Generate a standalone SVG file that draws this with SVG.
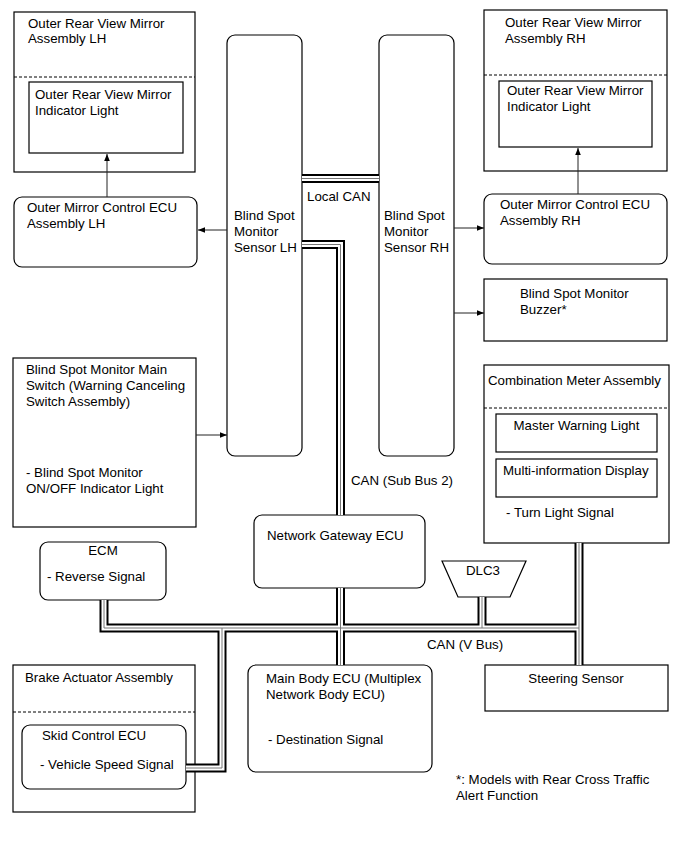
<svg xmlns="http://www.w3.org/2000/svg" width="690" height="853" viewBox="0 0 690 853">
<defs>
<marker id="arr" viewBox="0 0 10 10" refX="10" refY="5" markerWidth="7" markerHeight="7" markerUnits="userSpaceOnUse" orient="auto">
<path d="M0,1 L10,5 L0,9 Z" fill="#000"/>
</marker>
</defs>
<style>
text{font-family:"Liberation Sans",Arial,sans-serif;font-size:13.3px;fill:#000}
.box{fill:#fff;stroke:#000;stroke-width:1.2}
.dash{fill:none;stroke:#000;stroke-width:1;stroke-dasharray:3,2}
.ln{fill:none;stroke:#222;stroke-width:1}
.bk{fill:none;stroke:#000;stroke-width:9;stroke-linejoin:miter}
.wh{fill:none;stroke:#fff;stroke-width:5;stroke-linejoin:miter}
.ct{fill:none;stroke:#777;stroke-width:1}
</style>
<rect width="690" height="853" fill="#fff"/>

<g id="mirror-lh">
<rect class="box" x="14" y="12" width="181" height="160"/>
<line class="dash" x1="14" y1="77" x2="195" y2="77"/>
<text x="28" y="27.5">Outer Rear View Mirror</text>
<text x="28" y="43">Assembly LH</text>
</g>
<g id="mirror-lh-light">
<rect class="box" x="29" y="82" width="154" height="71"/>
<text x="35" y="99">Outer Rear View Mirror</text>
<text x="35" y="114.5">Indicator Light</text>
</g>
<g id="ecu-lh">
<rect class="box" x="14" y="197" width="183" height="70" rx="8"/>
<text x="27" y="212">Outer Mirror Control ECU</text>
<text x="27" y="227.5">Assembly LH</text>
</g>
<g id="sensor-lh">
<rect class="box" x="227" y="35" width="75" height="421" rx="8"/>
<text x="234" y="220">Blind Spot</text>
<text x="234" y="236">Monitor</text>
<text x="234" y="252">Sensor LH</text>
</g>
<g id="sensor-rh">
<rect class="box" x="379" y="35" width="75" height="421" rx="8"/>
<text x="384" y="220">Blind Spot</text>
<text x="384" y="236">Monitor</text>
<text x="384" y="252">Sensor RH</text>
</g>
<g id="mirror-rh">
<rect class="box" x="484" y="10" width="183" height="161"/>
<line class="dash" x1="484" y1="75" x2="667" y2="75"/>
<text x="505" y="27">Outer Rear View Mirror</text>
<text x="505" y="42.5">Assembly RH</text>
</g>
<g id="mirror-rh-light">
<rect class="box" x="499" y="81" width="153" height="66"/>
<text x="507" y="95">Outer Rear View Mirror</text>
<text x="507" y="110.5">Indicator Light</text>
</g>
<g id="ecu-rh">
<rect class="box" x="484" y="194" width="183" height="70" rx="8"/>
<text x="500" y="209">Outer Mirror Control ECU</text>
<text x="500" y="224.5">Assembly RH</text>
</g>
<g id="buzzer">
<rect class="box" x="484" y="279" width="183" height="62"/>
<text x="520" y="298">Blind Spot Monitor</text>
<text x="520" y="314">Buzzer*</text>
</g>
<g id="main-switch">
<rect class="box" x="13" y="358" width="183" height="169"/>
<text x="26" y="374">Blind Spot Monitor Main</text>
<text x="26" y="390">Switch (Warning Canceling</text>
<text x="26" y="406">Switch Assembly)</text>
<text x="26" y="477">- Blind Spot Monitor</text>
<text x="26" y="493">ON/OFF Indicator Light</text>
</g>
<g id="combination-meter">
<rect class="box" x="484" y="365" width="185" height="178"/>
<line class="dash" x1="484" y1="408" x2="669" y2="408"/>
<text x="488" y="385">Combination Meter Assembly</text>
<text x="506" y="517">- Turn Light Signal</text>
</g>
<g id="master-warning">
<rect class="box" x="496" y="414" width="161" height="38"/>
<text x="576.5" y="430" text-anchor="middle">Master Warning Light</text>
</g>
<g id="multi-display">
<rect class="box" x="496" y="459" width="161" height="38"/>
<text x="503" y="475">Multi-information Display</text>
</g>
<g id="gateway">
<rect class="box" x="254" y="515" width="171" height="73" rx="8"/>
<text x="267" y="540">Network Gateway ECU</text>
</g>
<g id="ecm">
<rect class="box" x="40" y="542" width="126" height="58" rx="8"/>
<text x="103" y="555" text-anchor="middle">ECM</text>
<text x="47" y="581">- Reverse Signal</text>
</g>
<g id="dlc3">
<path class="box" d="M442,561 H526 L510,597 H458 Z"/>
<text x="483" y="575" text-anchor="middle">DLC3</text>
</g>
<g id="brake-actuator">
<rect class="box" x="13" y="665" width="182" height="147"/>
<line class="dash" x1="13" y1="712" x2="195" y2="712"/>
<text x="25" y="682">Brake Actuator Assembly</text>
</g>
<g id="skid-ecu">
<rect class="box" x="22" y="725" width="164" height="64" rx="8"/>
<text x="42" y="740">Skid Control ECU</text>
<text x="40" y="769">- Vehicle Speed Signal</text>
</g>
<g id="main-body">
<rect class="box" x="248" y="665" width="184" height="107" rx="8"/>
<text x="266" y="683">Main Body ECU (Multiplex</text>
<text x="266" y="698.5">Network Body ECU)</text>
<text x="268" y="744">- Destination Signal</text>
</g>
<g id="steering">
<rect class="box" x="485" y="665" width="183" height="46"/>
<text x="576" y="683" text-anchor="middle">Steering Sensor</text>
</g>
<g id="footnote">
<text x="456" y="784">*: Models with Rear Cross Traffic</text>
<text x="456" y="800">Alert Function</text>
</g>

<g id="connectors">
<g id="bus-outer">
<path class="bk" d="M302,178.5 H379"/>
<path class="bk" d="M302,244.5 H340.5 V515"/>
<path class="bk" d="M340.5,588 V665"/>
<path class="bk" d="M104,600 V628 H579"/>
<path class="bk" d="M186,768 H222 V628"/>
<path class="bk" d="M482,597 V628"/>
<path class="bk" d="M579,543 V665"/>
</g>
<g id="bus-inner">
<path class="wh" d="M302,178.5 H379"/>
<path class="wh" d="M302,244.5 H340.5 V515"/>
<path class="wh" d="M340.5,588 V665"/>
<path class="wh" d="M104,600 V628 H579"/>
<path class="wh" d="M186,768 H222 V628"/>
<path class="wh" d="M482,597 V628"/>
<path class="wh" d="M579,543 V665"/>
</g>
<g id="bus-center">
<path class="ct" d="M302,178.5 H379"/>
<path class="ct" d="M302,244.5 H340.5 V515"/>
<path class="ct" d="M340.5,588 V665"/>
<path class="ct" d="M104,600 V628 H579"/>
<path class="ct" d="M186,768 H222 V628"/>
<path class="ct" d="M482,597 V628"/>
<path class="ct" d="M579,543 V665"/>
</g>
<path class="ln" d="M107,197 V154" marker-end="url(#arr)"/>
<path class="ln" d="M578,194 V148" marker-end="url(#arr)"/>
<path class="ln" d="M227,230 H198" marker-end="url(#arr)"/>
<path class="ln" d="M196,435 H227" marker-end="url(#arr)"/>
<path class="ln" d="M454,228 H484" marker-end="url(#arr)"/>
<path class="ln" d="M454,313 H484" marker-end="url(#arr)"/>
<text x="307" y="201">Local CAN</text>
<text x="351" y="485">CAN (Sub Bus 2)</text>
<text x="427" y="649">CAN (V Bus)</text>
</g>
</svg>
